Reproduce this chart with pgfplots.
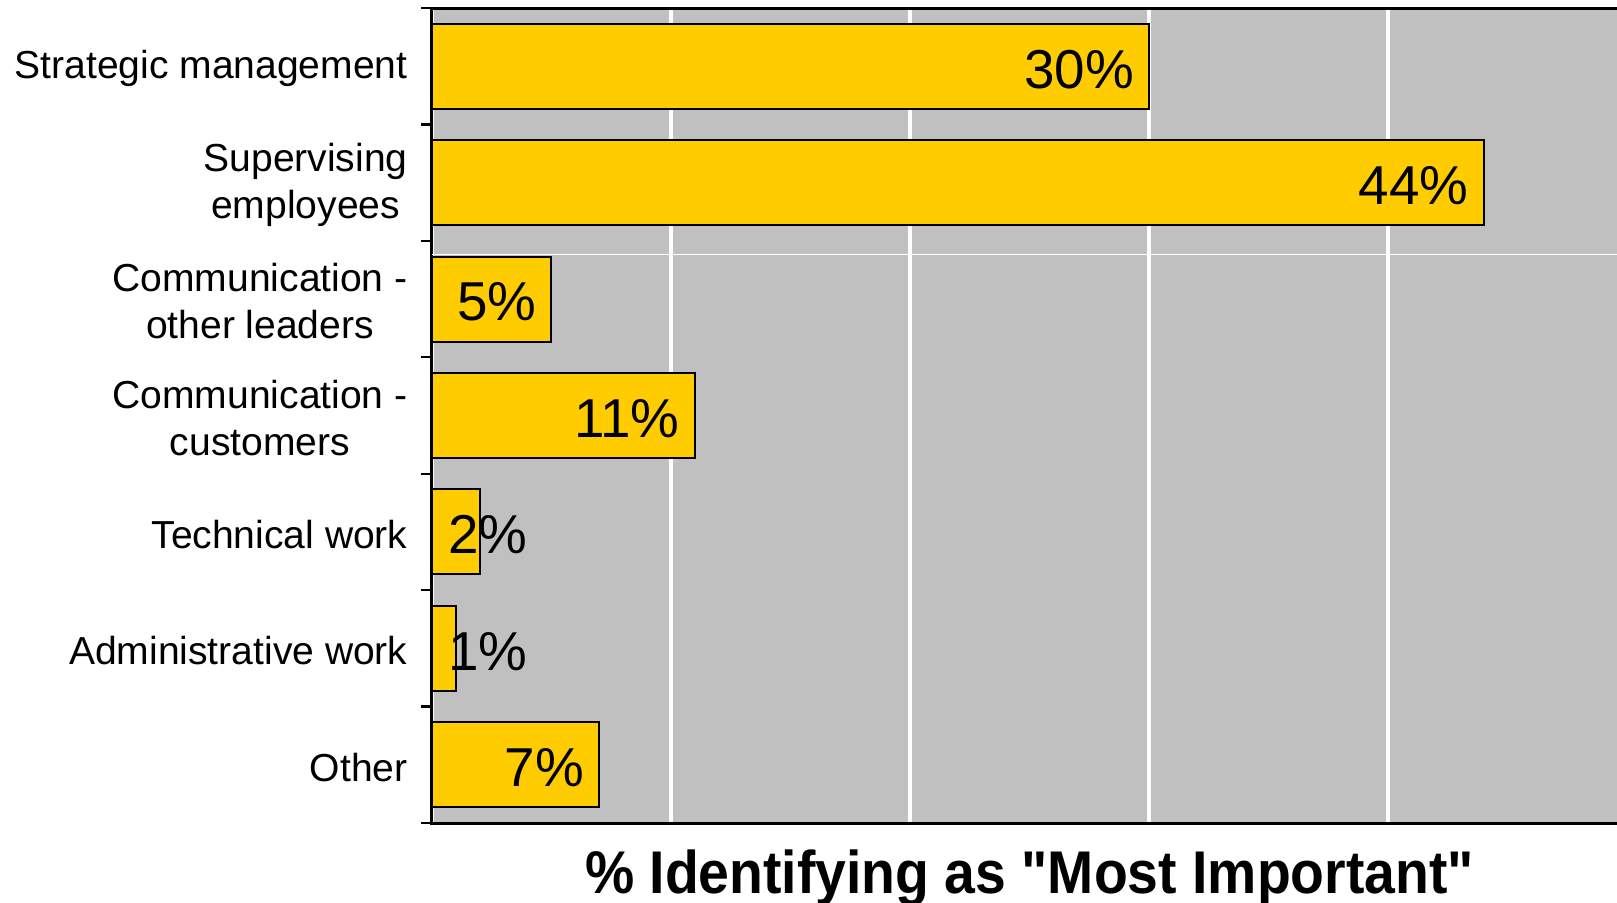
\documentclass[border=0pt]{standalone}
\usepackage{pgfplots}
\pgfplotsset{compat=1.18}
\usepackage{pgfplotstable}
\usepackage{fontspec}
\setmainfont{Liberation Sans}
\definecolor{bargold}{HTML}{FFCC00}
\definecolor{bggray}{HTML}{C0C0C0}

\pgfplotstableread{
idx v
0 30
1 44
2 5
3 11
4 2
5 1
6 7
}\datatable

\begin{document}
\begin{tikzpicture}
\begin{axis}[
  scale only axis,
  width=597.5bp, height=407.5bp,
  at={(0,0)}, anchor=south west,
  xmin=0, xmax=50,
  ymin=-0.5, ymax=6.5,
  y dir=reverse,
  /pgf/number format/assume math mode=true,
  axis background/.style={fill=bggray},
  axis line style={line width=1.5bp, black},
  xtick={0,10,...,50},
  xticklabels={},
  xmajorgrids,
  major grid style={white, line width=2bp},
  x tick style={draw=none},
  ytick={0,...,6},
  yticklabels={Strategic management, {Supervising\\employees}, {Communication -\\other leaders}, {Communication -\\customers}, Technical work, Administrative work, Other},
  y tick style={draw=none},
  major tick length=0pt,
  tick align=outside,
  extra y ticks={-0.5,0.5,1.5,2.5,3.5,4.5,5.5,6.5},
  extra y tick labels={},
  extra y tick style={major tick length=5.5bp, y tick style={draw=black, line width=1.2bp}},
  yticklabel style={font=\fontsize{19.6}{23.6}\selectfont, align=center, anchor=east, inner sep=0pt, xshift=-12bp, yshift=-1.2bp},
  xlabel={\scalebox{1.01}[1.1]{\bfseries \% Identifying as \textquotedbl Most Important\textquotedbl}},
  xlabel style={font=\fontsize{27.5}{30}\selectfont, anchor=base, at={(axis description cs:0.5,0)}, yshift=-35bp},
  clip=false,
]
\addplot[xbar, bar width=0.73, fill=bargold, draw=black, line width=1bp]
  table[x=v, y=idx] {\datatable};
\addplot[white, line width=0.5bp] coordinates {(0,1.613) (50,1.613)};
\addplot[only marks, mark=none, point meta=explicit,
  nodes near coords={\pgfmathprintnumber{\pgfplotspointmeta}\%},
  every node near coord/.append style={font=\fontsize{27.5}{30}\selectfont, anchor=east, inner sep=0pt, black, yshift=-1.5bp}]
  table[x expr={max(\thisrow{v}-0.62,4.0)}, y=idx, meta=v] {\datatable};
\end{axis}
\pgfresetboundingbox
\path[use as bounding box] (-216bp,-40bp) rectangle (592.5bp,411.5bp);
\end{tikzpicture}
\end{document}
